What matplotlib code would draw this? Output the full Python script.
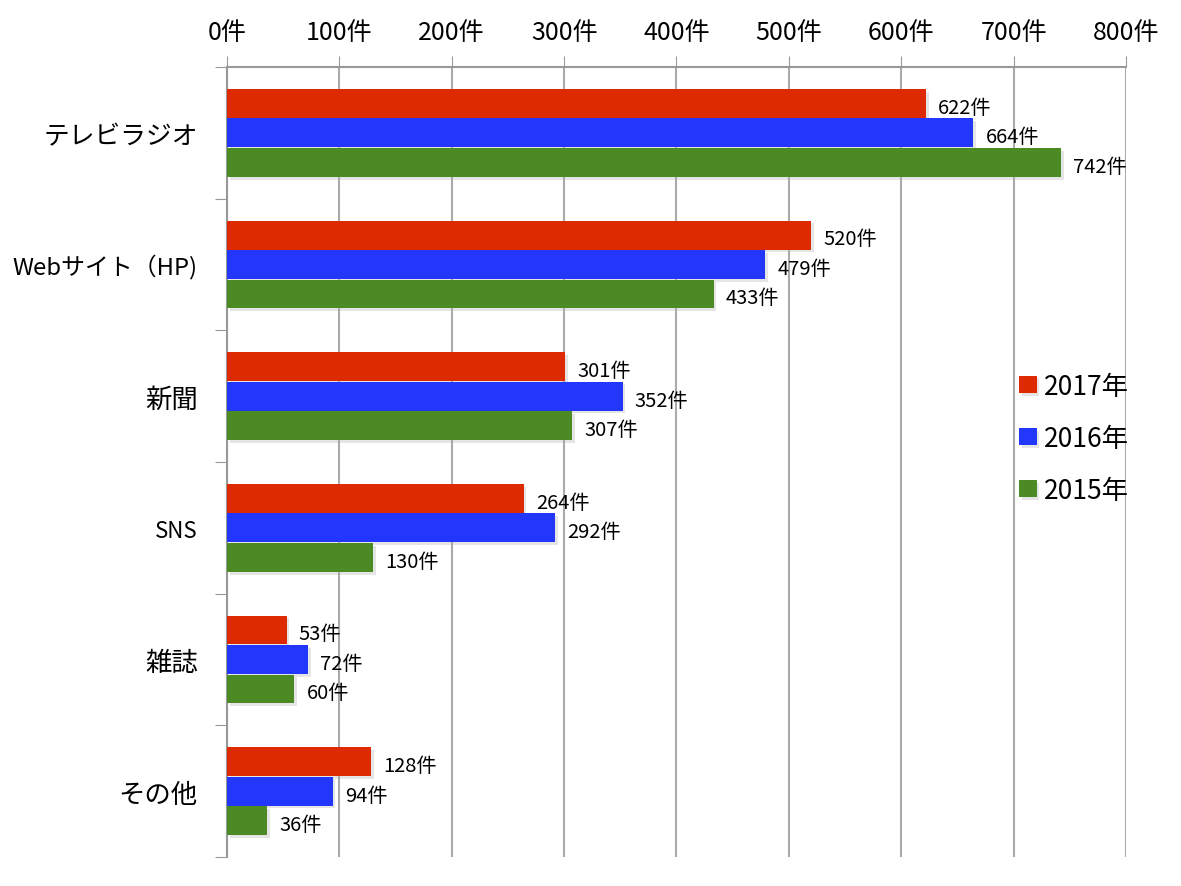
import matplotlib
matplotlib.use("Agg")
import matplotlib.pyplot as plt
import matplotlib.patheffects as pe
import numpy as np

plt.rcParams['font.family'] = ['Noto Sans CJK JP', 'DejaVu Sans']

categories = ["テレビラジオ", "Webサイト（HP)", "新聞", "SNS", "雑誌", "その他"]
cat_sizes = [18.5, 17.2, 19, 16, 19, 19]
series_names = ["2017年", "2016年", "2015年"]
v2017 = [622, 520, 301, 264, 53, 128]
v2016 = [664, 479, 352, 292, 72, 94]
v2015 = [742, 433, 307, 130, 60, 36]
xticks = [0, 100, 200, 300, 400, 500, 600, 700, 800]
xtick_labels = [f"{t}件" for t in xticks]

colors = ["#DD2A00", "#2336FB", "#4C8A23"]
series = [v2017, v2016, v2015]

fig = plt.figure(figsize=(11.81, 8.87), dpi=100)
ax = fig.add_axes([0.1922, 0.0327, 0.9534 - 0.1922, 0.9233 - 0.0327])

y = np.arange(len(categories))
h = 0.22
offs = [-0.224, 0.0, 0.224]
shadow = [pe.SimplePatchShadow(offset=(2, -2), shadow_rgbFace='#aaaaaa', alpha=0.3), pe.Normal()]
for vals, c, o, name in zip(series, colors, offs, series_names):
    bars = ax.barh(y + o, vals, height=h, color=c, label=name, zorder=3)
    for b in bars:
        b.set_path_effects(shadow)
    for yi, v in zip(y, vals):
        ax.text(v + 11, yi + o + 0.03, f"{v}件", va='center', ha='left', fontsize=14.5, zorder=4)

ax.set_xlim(0, 800)
ax.set_ylim(5.5, -0.5)
ax.xaxis.tick_top()
ax.set_xticks(xticks)
ax.set_xticklabels(xtick_labels, fontsize=18)
ax.tick_params(axis='x', length=8, color='#999999', pad=8)
ax.grid(axis='x', color='#aaaaaa', linewidth=1.5, zorder=0)

ax.set_yticks(np.arange(-0.5, 6, 1))
ax.set_yticklabels([])
ax.tick_params(axis='y', which='major', length=9, color='#999999')
ax.set_yticks(y, minor=True)
ax.set_yticklabels(categories, minor=True)
ax.tick_params(axis='y', which='minor', length=0, pad=21)
for lab, s in zip(ax.get_yticklabels(minor=True), cat_sizes):
    lab.set_fontsize(s)

for side in ['right', 'bottom']:
    ax.spines[side].set_visible(False)
for side in ['left', 'top']:
    ax.spines[side].set_color('#999999')
    ax.spines[side].set_linewidth(1.5)

leg = ax.legend(loc='center left', bbox_to_anchor=(0.855, 0.53), frameon=False,
                fontsize=19, handlelength=0.65, handleheight=0.65, handletextpad=0.3,
                labelspacing=0.95)

fig.savefig("out.png", dpi=100)
